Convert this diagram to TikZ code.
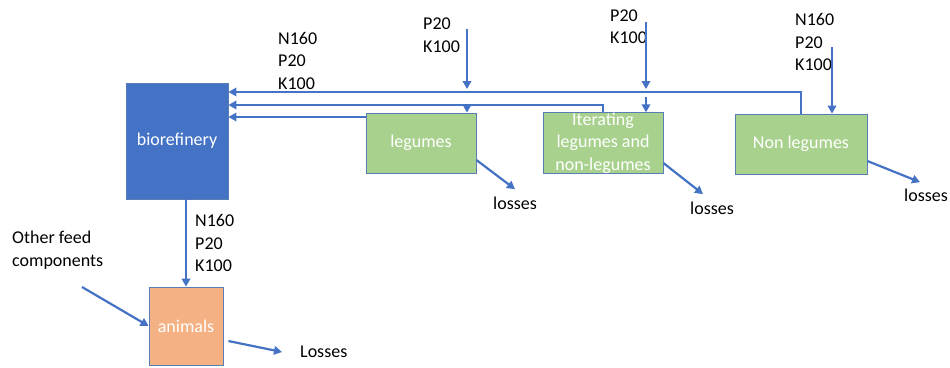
\documentclass[tikz,border=0pt]{standalone}
\usepackage{fontspec}
\setmainfont{Carlito}
\usetikzlibrary{arrows.meta}
\definecolor{flowblue}{HTML}{4472C4}
\definecolor{boxline}{HTML}{5B7DB5}
\definecolor{biofill}{HTML}{4472C4}
\definecolor{cropfill}{HTML}{A9D18E}
\definecolor{animfill}{HTML}{F4B183}
\begin{document}
\begin{tikzpicture}[x=1pt,y=-1pt,
	box/.style = {draw=boxline, line width=0.8pt, text=white, align=center, inner sep=0pt},
	flow/.style = {draw=flowblue, line width=2.2pt, -{Triangle[length=8pt,width=8.5pt]}},
	lbl/.style = {anchor=west, align=left, inner sep=0pt},
	every node/.style = {font=\fontsize{18}{22.5}\selectfont}]
	\useasboundingbox (0,0) rectangle (950,367);
	\node[box, fill=biofill, minimum width=102pt, minimum height=116pt] (bio) at (177,141) {biorefinery};
	\node[box, fill=cropfill, minimum width=110pt, minimum height=60pt] (leg) at (421,143) {legumes};
	\node[box, fill=cropfill, minimum width=120pt, minimum height=60pt] (iter) at (603,143) {Iterating\\legumes and\\non-legumes};
	\node[box, fill=cropfill, minimum width=132pt, minimum height=60pt] (nonleg) at (801,144) {Non legumes};
	\node[box, fill=animfill, minimum width=74pt, minimum height=78pt] (anim) at (186,326) {animals};
	\node[lbl] (binlbl) at (278,60.5) {N160\\P20\\K100};
	\node[lbl] (leglbl) at (423,35) {P20\\K100};
	\node[lbl] (iterlbl) at (610,26.5) {P20\\K100};
	\node[lbl] (nonleglbl) at (795,42) {N160\\P20\\K100};
	\node[lbl] (boutlbl) at (195,243) {N160\\P20\\K100};
	\node[lbl] (feed) at (12,250) {Other feed\\components};
	\node (loss1) at (515,203) {losses};
	\node (loss2) at (712,208) {losses};
	\node (loss3) at (926,195) {losses};
	\node[anchor=west, inner sep=0pt] (loss4) at (300,352) {Losses};
	\coordinate (legin) at (467,29);
	\coordinate (iterin) at (646,22);
	\coordinate (nonlegin) at (832,47);
	\coordinate (feedin) at (82,287);
	\coordinate (legback) at ([yshift=26pt]leg.west);
	% returns to the biorefinery
	\draw[flow] (nonleg.north) |- ([yshift=49pt]bio.east);
	\draw[flow] (iter.north) |- ([yshift=36pt]bio.east);
	\draw[flow] (legback) -- (legback -| bio.east);
	% inputs
	\draw[flow] (legin) -- (467,89);
	\draw[flow] (467,106) -- (legin |- leg.north);
	\draw[flow] (iterin) -- (646,89);
	\draw[flow] (646,97) -- (iterin |- iter.north);
	\draw[flow] (nonlegin) -- (nonlegin |- nonleg.north);
	\draw[flow] (anim.north |- bio.south) -- (anim.north);
	\draw[flow] (feedin) -- (anim.west);
	% losses
	\draw[flow] ([yshift=-17pt]leg.east) -- ([yshift=4pt]loss1.north);
	\draw[flow] ([yshift=-20pt]iter.east) -- ([xshift=-9pt,yshift=4pt]loss2.north);
	\draw[flow] ([yshift=-17pt]nonleg.east) -- ([xshift=-6pt,yshift=3pt]loss3.north);
	\draw[flow] ([xshift=5pt,yshift=-15pt]anim.east) -- ([xshift=-18pt]loss4.west);
\end{tikzpicture}
\end{document}
